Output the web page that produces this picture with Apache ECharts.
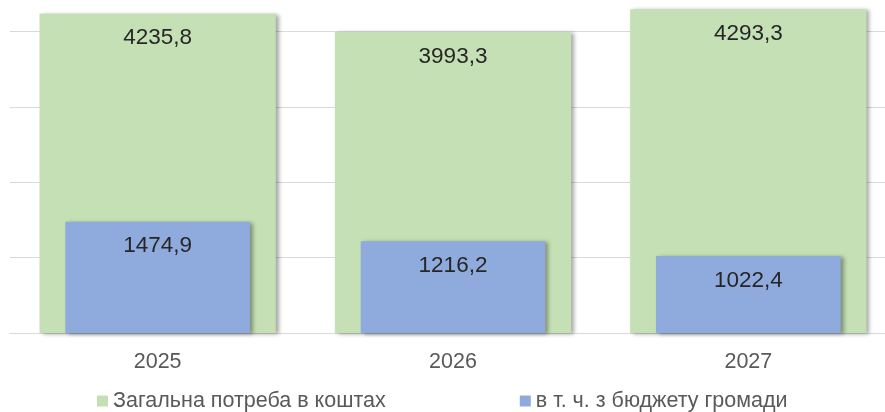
<!DOCTYPE html>
<html>
<head>
<meta charset="utf-8">
<script src="https://cdn.jsdelivr.net/npm/echarts@6/dist/echarts.min.js"></script>
<style>
  html, body { margin: 0; padding: 0; background: #fff; overflow: hidden; width: 885px; height: 412px; position: relative; }
  /* полотно трохи більше за вікно: верх і правий край обрізані, як на оригіналі */
  #main { position: absolute; left: 0; top: -44px; width: 896px; height: 456px; }
</style>
</head>
<body>
<div id="main"></div>
<script>
// дані з діаграми
var years = ['2025', '2026', '2027'];
var totalNeed = [4235.8, 3993.3, 4293.3];
var fromBudget = [1474.9, 1216.2, 1022.4];
var seriesNames = ['Загальна потреба в коштах', 'в т. ч. з бюджету громади'];

var FONT = 'Arial, "Liberation Sans", sans-serif';
var OFF = 44; // зсув полотна вгору

function fmt(p) {
    return p.value.toFixed(1).replace('.', ',');
}

var shadow = {
    shadowColor: 'rgba(0,0,0,0.35)',
    shadowBlur: 4,
    shadowOffsetX: 3,
    shadowOffsetY: 1
};

var myChart = echarts.init(document.getElementById('main'));
var option = {
    animation: false,
    grid: { left: 10, right: 0, top: 0, bottom: 79 },
    legend: {
        data: seriesNames,
        left: 97,
        top: 390 + OFF,
        padding: 0,
        icon: 'rect',
        itemWidth: 11,
        itemHeight: 11,
        itemGap: 134,
        textStyle: { fontFamily: FONT, fontSize: 21.5, color: '#595959' }
    },
    xAxis: [{
        type: 'category',
        data: years,
        axisTick: { show: false },
        axisLine: { lineStyle: { color: '#D9D9D9', width: 1 } },
        axisLabel: { fontFamily: FONT, fontSize: 21.5, color: '#595959', margin: 18 }
    }, {
        type: 'category',
        data: years,
        show: false
    }],
    yAxis: {
        type: 'value',
        min: 0,
        max: 5000,
        interval: 1000,
        axisLabel: { show: false },
        axisLine: { show: false },
        axisTick: { show: false },
        splitLine: { lineStyle: { color: '#D9D9D9', width: 1 } }
    },
    series: [{
        name: seriesNames[0],
        type: 'bar',
        xAxisIndex: 0,
        data: totalNeed,
        barWidth: '80%',
        z: 2,
        itemStyle: Object.assign({ color: '#C5E0B4' }, shadow),
        label: {
            show: true, position: 'insideTop', distance: 13,
            formatter: fmt, fontFamily: FONT, fontSize: 22.5, color: '#262626'
        }
    }, {
        name: seriesNames[1],
        type: 'bar',
        xAxisIndex: 1,
        data: fromBudget,
        barWidth: '62.5%',
        z: 3,
        itemStyle: Object.assign({ color: '#8FAADC' }, shadow),
        label: {
            show: true, position: 'insideTop', distance: 13,
            formatter: fmt, fontFamily: FONT, fontSize: 22.5, color: '#262626'
        }
    }]
};
myChart.setOption(option);
</script>
</body>
</html>
